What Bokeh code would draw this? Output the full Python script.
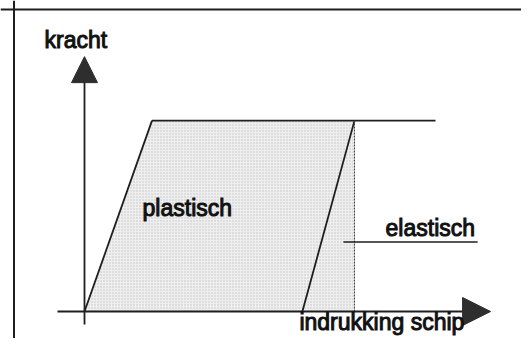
from bokeh.plotting import figure
from bokeh.models import Range1d, Arrow, NormalHead, Label, Span
from bokeh.embed import file_html
from bokeh.resources import INLINE

# ---- data (diagram units: indrukking schip vs kracht) ----
plastic_disp = [0.0, 2.5, 10.0, 8.07]
plastic_force = [0.0, 7.07, 7.07, 0.0]
elastic_disp = [8.07, 10.0, 10.0]
elastic_force = [0.0, 7.07, 0.0]
plateau_disp = [2.5, 13.0]
plateau_force = [7.07, 7.07]
load_disp = [0.0, 2.5]
load_force = [0.0, 7.07]
unload_disp = [8.07, 10.0]
unload_force = [0.0, 7.07]
elastic_limit_disp = [10.0, 10.0]
elastic_limit_force = [0.0, 7.07]
label_texts = ["kracht", "plastisch", "elastisch", "indrukking schip"]
label_x = [-1.48, 2.15, 11.15, 7.96]
label_y = [10.06, 3.84, 3.09, -0.39]
pointer_disp = [9.59, 14.56]
pointer_force = [2.57, 2.57]

INK = "#1e1e1e"

p = figure(width=521, height=338, output_backend="svg", toolbar_location=None,
           x_range=Range1d(-3.111, 16.185), y_range=Range1d(-1.0, 11.519),
           min_border=0)
p.axis.visible = False
p.grid.visible = False
p.outline_line_color = None
p.background_fill_color = "white"

# frame of the drawing
p.add_layout(Span(location=11.185, dimension="width", line_color=INK, line_width=2))
p.add_layout(Span(location=-2.611, dimension="height", line_color=INK, line_width=2))

shade = dict(fill_color="#efefef", line_color=None, hatch_pattern="dot",
             hatch_color="#8a8a8a", hatch_scale=3, hatch_weight=1, hatch_alpha=0.45)
p.patch(plastic_disp, plastic_force, **shade)
p.patch(elastic_disp, elastic_force, **shade)

p.line(load_disp, load_force, line_color=INK, line_width=1.8)
p.line(unload_disp, unload_force, line_color=INK, line_width=1.8)
p.line(plateau_disp, plateau_force, line_color=INK, line_width=1.8)
p.line(elastic_limit_disp, elastic_limit_force, line_color="#444444", line_width=1,
       line_dash="2 1")
p.line(pointer_disp, pointer_force, line_color=INK, line_width=1.5)

# axes with arrow heads
p.add_layout(Arrow(x_start=-1.0, y_start=0, x_end=15.04, y_end=0,
                   line_color=INK, line_width=1.8,
                   end=NormalHead(size=28, fill_color="#2e2e2e", line_color="#2e2e2e")))
p.add_layout(Arrow(x_start=0, y_start=-0.48, x_end=0, y_end=9.44,
                   line_color=INK, line_width=1.8,
                   end=NormalHead(size=26, fill_color="#2e2e2e", line_color="#2e2e2e")))

for t, x, y in zip(label_texts, label_x, label_y):
    p.add_layout(Label(x=x, y=y, text=t, text_font="Liberation Sans",
                       text_font_size="23px", text_color="#111111",
                       text_outline_color="#111111",
                       text_baseline="alphabetic", text_align="left"))

open("out.html", "w").write(file_html(p, INLINE))
